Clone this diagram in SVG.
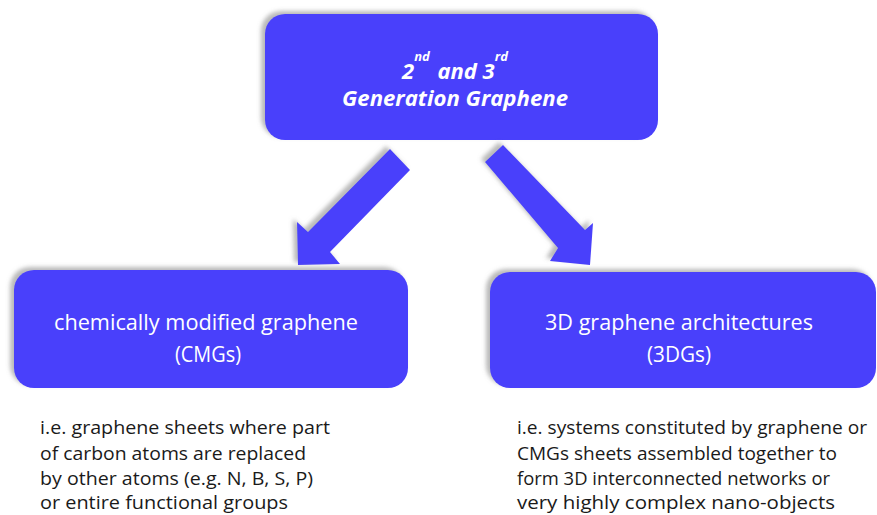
<svg xmlns="http://www.w3.org/2000/svg" width="877" height="515" viewBox="0 0 877 515">
  <defs>
    <filter id="shade" x="-10%" y="-10%" width="120%" height="120%">
      <feDropShadow dx="-4" dy="-3" stdDeviation="2" flood-color="#808080" flood-opacity="0.55"/>
    </filter>
    <style>
      .box { fill: #4a41fb; filter: url(#shade); }
      .arrow { fill: #4a41fb; filter: url(#shade); }
      .title { font-family: "Open Sans", "Liberation Sans", sans-serif; font-weight: bold; font-style: italic; fill: #ffffff; }
      .label { font-family: "Open Sans", "Liberation Sans", sans-serif; font-size: 22px; fill: #ffffff; text-anchor: middle; }
      .note { font-family: "Open Sans", "Liberation Sans", sans-serif; font-size: 19px; fill: #1a1a1a; }
    </style>
  </defs>
  <rect width="877" height="515" fill="#ffffff"/>

  <!-- top node -->
  <g id="gen-graphene">
    <rect class="box" x="265" y="14" width="393" height="126" rx="20"/>
    <text class="title" x="402" y="79" font-size="22">2<tspan font-size="13" dy="-18">nd</tspan><tspan dx="2" dy="18" font-size="22"> and 3</tspan><tspan font-size="13" dy="-18">rd</tspan></text>
    <text class="title" x="455" y="106" font-size="22" text-anchor="middle" textLength="226" lengthAdjust="spacingAndGlyphs">Generation Graphene</text>
  </g>

  <!-- connectors -->
  <g id="connectors">
    <polygon class="arrow" points="390,149 410,170 330,252 340,264 298,265 297,222 308,232"/>
    <polygon class="arrow" points="503,145 585,230 593,223 590,265 550,261 558,248 485,162"/>
  </g>

  <!-- left node -->
  <g id="cmg">
    <rect class="box" x="14" y="270" width="394" height="118" rx="20"/>
    <text class="label" x="206" y="330" textLength="304" lengthAdjust="spacingAndGlyphs">chemically modified graphene</text>
    <text class="label" x="208" y="362" textLength="66" lengthAdjust="spacingAndGlyphs">(CMGs)</text>
  </g>

  <!-- right node -->
  <g id="3dg">
    <rect class="box" x="490" y="272" width="386" height="116" rx="20"/>
    <text class="label" x="679" y="330" textLength="268" lengthAdjust="spacingAndGlyphs">3D graphene architectures</text>
    <text class="label" x="679" y="362" textLength="64" lengthAdjust="spacingAndGlyphs">(3DGs)</text>
  </g>

  <!-- descriptions -->
  <g id="cmg-note">
    <text class="note" x="40" y="434" textLength="290" lengthAdjust="spacingAndGlyphs">i.e. graphene sheets where part</text>
    <text class="note" x="40" y="460" textLength="266" lengthAdjust="spacingAndGlyphs">of carbon atoms are replaced</text>
    <text class="note" x="40" y="485" textLength="273" lengthAdjust="spacingAndGlyphs">by other atoms (e.g. N, B, S, P)</text>
    <text class="note" x="40" y="509" textLength="248" lengthAdjust="spacingAndGlyphs">or entire functional groups</text>
  </g>
  <g id="3dg-note">
    <text class="note" x="517" y="434" textLength="350" lengthAdjust="spacingAndGlyphs">i.e. systems constituted by graphene or</text>
    <text class="note" x="517" y="460" textLength="320" lengthAdjust="spacingAndGlyphs">CMGs sheets assembled together to</text>
    <text class="note" x="517" y="485" textLength="313" lengthAdjust="spacingAndGlyphs">form 3D interconnected networks or</text>
    <text class="note" x="517" y="509" textLength="318" lengthAdjust="spacingAndGlyphs">very highly complex nano-objects</text>
  </g>
</svg>
